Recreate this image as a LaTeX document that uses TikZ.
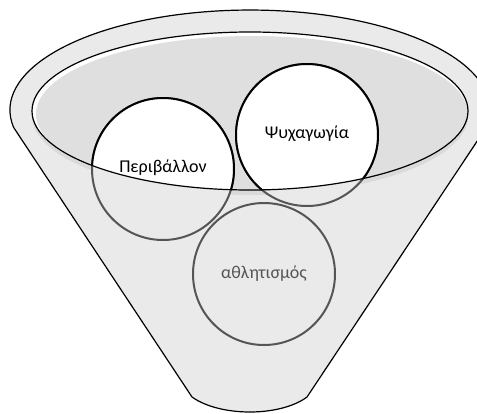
\documentclass[tikz,border=0pt]{standalone}
\usepackage{fontspec}
\setmainfont{Carlito}
\definecolor{bodygray}{HTML}{EAEAEA}
\definecolor{mouthgray}{HTML}{DFDFDF}
\definecolor{shadegray}{HTML}{DADADA}
\definecolor{rimgray}{HTML}{555555}
\begin{document}
\begin{tikzpicture}[x=1pt,y=-1pt]
		\tikzset{funnel/.style = {fill=bodygray, draw=black, line width=1.2pt}}
		\tikzset{ball/.style = {line width=2pt}}
		\tikzset{label/.style = {font=\fontsize{18}{21}\selectfont}}
		
		\useasboundingbox (0,0) rectangle (477,413);
		
		\coordinate (mouth) at (250,111);
		\coordinate (envc)   at (163,169);
		\coordinate (func)   at (307,135);
		\coordinate (sportc) at (264,274);
		
		% funnel body
		\draw[funnel] (13.6,127.4) arc[start angle=170, end angle=370, x radius=240, y radius=100]
			-- (307,397) .. controls (280,417) and (220,417) .. (192,397) -- cycle;
		
		% shadow and mouth
		\fill[shadegray] (250,116) ellipse[x radius=218, y radius=79];
		\fill[white] (mouth) ellipse[x radius=218, y radius=79];
		\begin{scope}
			\clip (mouth) ellipse[x radius=218, y radius=79];
			\fill[mouthgray] (252,114) ellipse[x radius=216, y radius=78];
		\end{scope}
		
		% balls, part below the mouth
		\foreach \c in {envc,func,sportc}
			\draw[ball, fill=bodygray, draw=rimgray] (\c) circle[radius=71];
		
		% balls, part inside the mouth
		\begin{scope}
			\clip (mouth) ellipse[x radius=218, y radius=79];
			\draw[ball, fill=white, draw=black] (envc) circle[radius=71];
			\draw[ball, fill=white, draw=black] (func) circle[radius=71];
		\end{scope}
		
		\draw[line width=1.2pt] (mouth) ellipse[x radius=218, y radius=79];
		
		\node[label]                 (env)   at (163,168) {Περιβάλλον};
		\node[label]                 (fun)   at (307,134) {Ψυχαγωγία};
		\node[label, text=rimgray]   (sport) at (264,274) {αθλητισμός};
\end{tikzpicture}
\end{document}
